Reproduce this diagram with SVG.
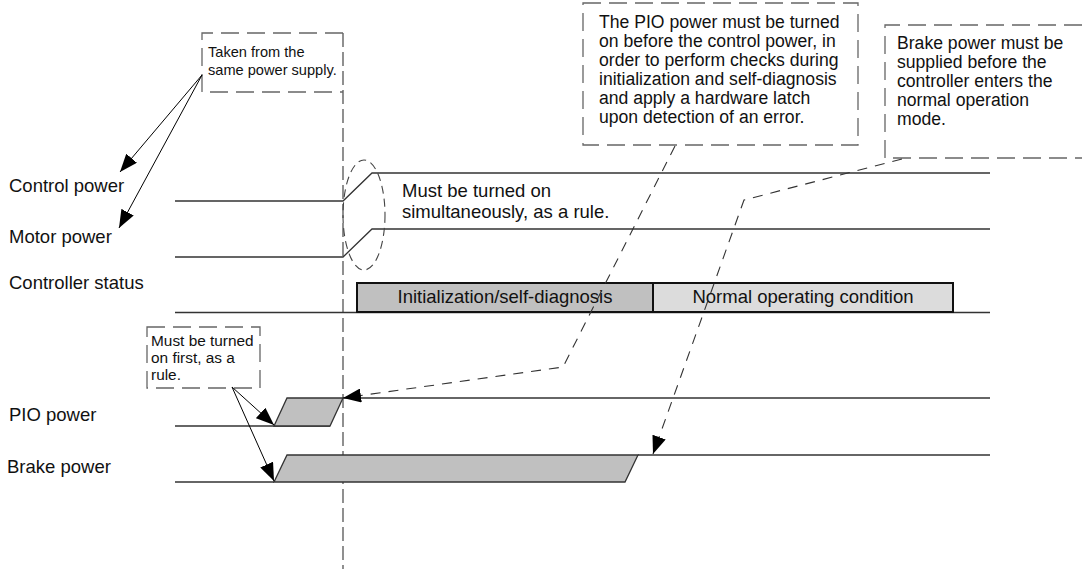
<svg xmlns="http://www.w3.org/2000/svg" width="1082" height="569" viewBox="0 0 1082 569">
  <defs>
    <marker id="head" markerUnits="userSpaceOnUse" markerWidth="20" markerHeight="14" refX="18" refY="7" orient="auto">
      <path d="M0,0 L18,7 L0,14 Z" fill="#000" stroke="none"/>
    </marker>
    <style>
      text { font-family: "Liberation Sans", Arial, sans-serif; fill: #111; }
      .lbl { font-size: 18.5px; }
      .note { font-size: 17.6px; }
      .small { font-size: 14.6px; }
      .small2 { font-size: 15.4px; }
      .sig { fill: none; stroke: #333; stroke-width: 1.3; }
      .pulse { fill: #c0c0c0; stroke: #333; stroke-width: 1.3; }
      .box { fill: none; stroke: #666; stroke-width: 1.3; stroke-dasharray: 18 8; }
      .guide { fill: none; stroke: #555; stroke-width: 1.3; stroke-dasharray: 14 5; }
      .lead { fill: none; stroke: #333; stroke-width: 1.1; stroke-dasharray: 10 8; }
      .arrow { fill: none; stroke: #000; stroke-width: 1; marker-end: url(#head); }
    </style>
  </defs>
  <rect width="1082" height="569" fill="#fff"/>

  <!-- signal names -->
  <g id="labels" class="lbl">
    <text x="9" y="192">Control power</text>
    <text x="9" y="243">Motor power</text>
    <text x="9" y="289">Controller status</text>
    <text x="9" y="421">PIO power</text>
    <text x="7" y="473">Brake power</text>
  </g>

  <!-- power-on reference line -->
  <path id="reference-line" class="guide" d="M343,33 V569"/>

  <!-- waveforms -->
  <g id="control-power">
    <path class="sig" d="M175,201 H343 L372,173 H990"/>
  </g>
  <g id="motor-power">
    <path class="sig" d="M175,257 H343 L372,229 H990"/>
  </g>
  <g id="controller-status">
    <path class="sig" d="M175,312.5 H990"/>
    <rect x="357" y="283" width="296" height="29" fill="#c0c0c0" stroke="#111" stroke-width="2"/>
    <rect x="653" y="283" width="300" height="29" fill="#dcdcdc" stroke="#111" stroke-width="2"/>
    <text class="lbl" x="505" y="303" text-anchor="middle">Initialization/self-diagnosis</text>
    <text class="lbl" x="803" y="303" text-anchor="middle">Normal operating condition</text>
  </g>
  <g id="pio-power">
    <path class="sig" d="M175,426 H330"/>
    <polygon class="pulse" points="274,426 287,398 343,398 330,426"/>
    <path class="sig" d="M343,398 H990"/>
  </g>
  <g id="brake-power">
    <path class="sig" d="M175,482 H274"/>
    <polygon class="pulse" points="274,482 287,455 638,455 625,482"/>
    <path class="sig" d="M638,455 H990"/>
  </g>

  <!-- simultaneous turn-on marker -->
  <g id="simultaneous-note">
    <ellipse cx="364" cy="215" rx="21" ry="55" fill="none" stroke="#444" stroke-width="1.1" stroke-dasharray="8 5"/>
    <text class="lbl" x="402" y="196.5">Must be turned on</text>
    <text class="lbl" x="402" y="218">simultaneously, as a rule.</text>
  </g>

  <!-- notes -->
  <g id="same-supply-note">
    <path class="box" d="M343,33 H202 V92 H343"/>
    <text class="small" x="208" y="57">Taken from the</text>
    <text class="small" x="208" y="75">same power supply.</text>
  </g>
  <g id="first-note">
    <path class="box" d="M147,327 H260 V388 H147 Z"/>
    <text class="small2" x="151" y="346">Must be turned</text>
    <text class="small2" x="151" y="363">on first, as a</text>
    <text class="small2" x="151" y="380">rule.</text>
  </g>
  <g id="pio-note">
    <rect class="box" x="583" y="3" width="275" height="142"/>
    <text class="note" x="599" y="28">The PIO power must be turned</text>
    <text class="note" x="599" y="47">on before the control power, in</text>
    <text class="note" x="599" y="66">order to perform checks during</text>
    <text class="note" x="599" y="85">initialization and self-diagnosis</text>
    <text class="note" x="599" y="104">and apply a hardware latch</text>
    <text class="note" x="599" y="123">upon detection of an error.</text>
  </g>
  <g id="brake-note">
    <path class="box" d="M1082,25 H885 V158 H1082"/>
    <text class="note" x="897" y="49">Brake power must be</text>
    <text class="note" x="897" y="68">supplied before the</text>
    <text class="note" x="897" y="87">controller enters the</text>
    <text class="note" x="897" y="106">normal operation</text>
    <text class="note" x="897" y="125">mode.</text>
  </g>

  <!-- connectors -->
  <g id="connectors">
    <path class="arrow" d="M202,75 L120,172"/>
    <path class="arrow" d="M202,75 L119,228"/>
    <path class="arrow" d="M232,387 L274,425"/>
    <path class="arrow" d="M232,387 L274,481"/>
    <path class="lead" d="M675,146 L563,367 L343,398" marker-end="url(#head)"/>
    <path class="lead" d="M902,159 L744,200 L653,454" marker-end="url(#head)"/>
  </g>
</svg>
